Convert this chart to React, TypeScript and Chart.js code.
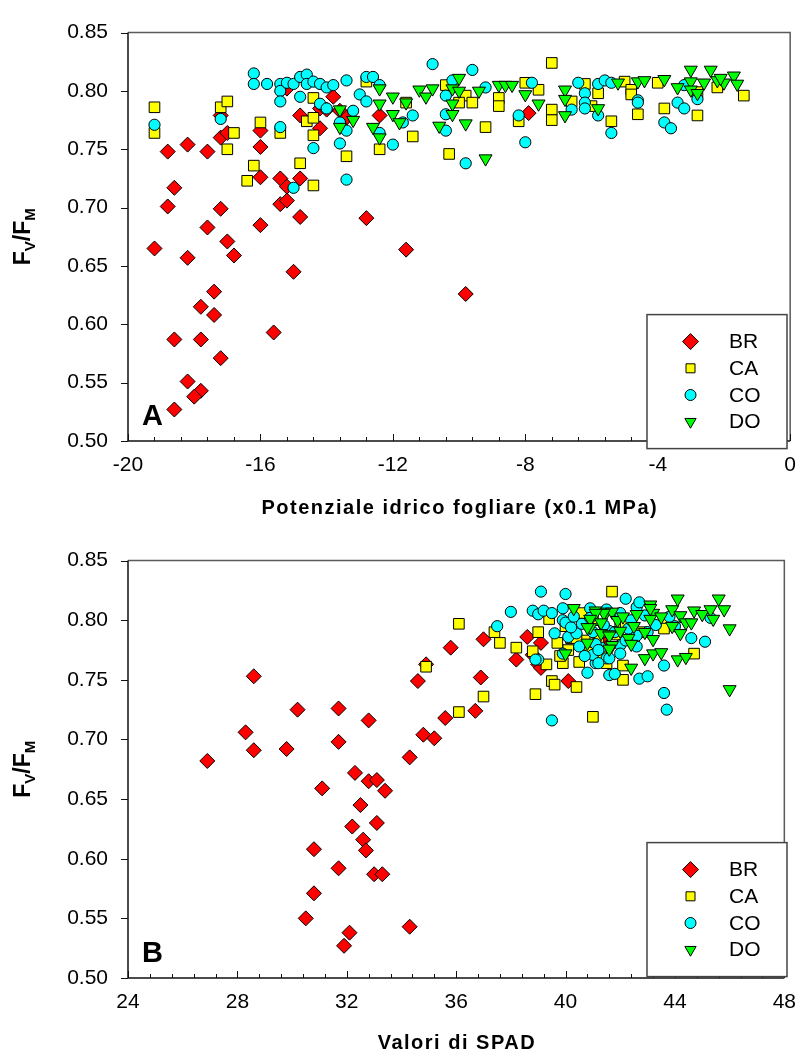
import React, { useEffect, useRef } from 'react';
import { Chart, registerables } from 'chart.js';

Chart.register(...registerables);

const FONT = '"Liberation Sans", Arial, Helvetica, sans-serif';

const seriesNames = ['BR', 'CA', 'CO', 'DO'];
const seriesColors = ['#ff0000', '#ffff00', '#00ffff', '#00ff00'];
const seriesStyles = ['rectRot', 'rect', 'circle', 'triangle'];

const yTicks = [0.5, 0.55, 0.6, 0.65, 0.7, 0.75, 0.8, 0.85];
const xTicksA = [-20, -16, -12, -8, -4, 0];
const xTicksB = [24, 28, 32, 36, 40, 44, 48];

const xTitleA = 'Potenziale idrico fogliare (x0.1 MPa)';
const xTitleB = 'Valori di SPAD';

// Panel A: leaf water potential (x0.1 MPa) vs Fv/Fm
const brA: [number, number][] = [
  [-18.8, 0.748], [-18.2, 0.754], [-17.6, 0.748], [-19.2, 0.665], [-18.8, 0.701], [-18.6, 0.717],
  [-18.2, 0.657], [-17.6, 0.683], [-17.2, 0.699], [-17.0, 0.671], [-16.8, 0.659], [-17.2, 0.760],
  [-17.0, 0.764], [-17.2, 0.779], [-16.0, 0.766], [-16.0, 0.752], [-16.0, 0.726], [-16.0, 0.685],
  [-15.4, 0.725], [-15.2, 0.718], [-15.4, 0.703], [-15.2, 0.706], [-14.8, 0.725], [-14.8, 0.692],
  [-14.8, 0.779], [-14.2, 0.768], [-14.2, 0.785], [-14.0, 0.784], [-13.8, 0.795], [-13.6, 0.783],
  [-13.4, 0.777], [-12.8, 0.691], [-12.4, 0.779], [-15.2, 0.802], [-11.6, 0.664], [-15.0, 0.645],
  [-9.8, 0.626], [-17.4, 0.628], [-17.8, 0.615], [-17.4, 0.608], [-18.6, 0.587], [-17.8, 0.587],
  [-15.6, 0.593], [-17.2, 0.571], [-18.2, 0.551], [-17.8, 0.543], [-18.0, 0.538], [-18.6, 0.527],
  [-7.9, 0.781],
];
const caA: [number, number][] = [
  [-19.2, 0.786], [-19.2, 0.764], [-17.2, 0.786], [-17.0, 0.791], [-16.8, 0.764], [-17.0, 0.750],
  [-16.0, 0.773], [-16.2, 0.736], [-16.4, 0.723], [-15.4, 0.764], [-14.8, 0.738], [-14.4, 0.719],
  [-14.6, 0.774], [-14.4, 0.794], [-14.4, 0.777], [-14.4, 0.762], [-13.4, 0.744], [-12.8, 0.808],
  [-12.4, 0.750], [-10.4, 0.805], [-9.8, 0.796], [-10.0, 0.790], [-9.6, 0.790], [-8.8, 0.794],
  [-8.8, 0.787], [-8.0, 0.807], [-7.6, 0.801], [-8.2, 0.774], [-7.2, 0.824], [-7.2, 0.784],
  [-7.2, 0.775], [-6.6, 0.791], [-6.2, 0.806], [-6.0, 0.787], [-5.8, 0.798], [-5.4, 0.774],
  [-5.0, 0.808], [-4.8, 0.801], [-4.8, 0.797], [-4.6, 0.780], [-4.0, 0.807], [-3.8, 0.785],
  [-2.8, 0.799], [-2.2, 0.803], [-2.8, 0.779], [-1.4, 0.796], [-11.4, 0.761], [-10.3, 0.746],
  [-9.2, 0.769], [-11.6, 0.790],
];
const coA: [number, number][] = [
  [-19.2, 0.771], [-17.2, 0.776], [-16.2, 0.815], [-16.2, 0.806], [-15.8, 0.806], [-15.4, 0.806],
  [-15.4, 0.800], [-15.4, 0.791], [-15.2, 0.807], [-15.0, 0.806], [-14.8, 0.812], [-14.6, 0.814],
  [-14.6, 0.806], [-14.4, 0.808], [-14.2, 0.806], [-14.0, 0.803], [-13.8, 0.805], [-13.4, 0.809],
  [-14.8, 0.795], [-14.2, 0.789], [-14.0, 0.785], [-13.2, 0.783], [-13.0, 0.797], [-12.8, 0.812],
  [-12.6, 0.812], [-12.8, 0.791], [-12.4, 0.805], [-15.4, 0.769], [-15.0, 0.717], [-14.4, 0.751],
  [-13.6, 0.773], [-13.4, 0.766], [-13.6, 0.755], [-13.4, 0.724], [-12.4, 0.764], [-12.0, 0.754],
  [-10.8, 0.823], [-9.6, 0.818], [-10.2, 0.809], [-9.2, 0.803], [-7.8, 0.807], [-10.4, 0.796],
  [-11.4, 0.779], [-10.4, 0.780], [-10.4, 0.766], [-9.8, 0.738], [-8.2, 0.779], [-8.0, 0.756],
  [-6.4, 0.807], [-5.8, 0.806], [-5.6, 0.809], [-5.4, 0.807], [-6.2, 0.798], [-6.2, 0.790],
  [-6.2, 0.785], [-6.6, 0.784], [-5.8, 0.779], [-5.4, 0.764], [-4.6, 0.792], [-4.6, 0.790],
  [-3.4, 0.790], [-3.2, 0.785], [-3.8, 0.773], [-3.6, 0.768], [-2.8, 0.793], [-3.2, 0.805],
  [-11.7, 0.773],
];
const doA: [number, number][] = [
  [-13.6, 0.784], [-13.6, 0.769], [-13.2, 0.775], [-12.6, 0.769], [-12.4, 0.802], [-12.4, 0.789],
  [-12.4, 0.760], [-12.0, 0.795], [-12.0, 0.780], [-11.8, 0.773], [-11.6, 0.790], [-11.2, 0.801],
  [-11.0, 0.795], [-10.8, 0.802], [-10.2, 0.802], [-10.0, 0.811], [-10.2, 0.789], [-10.0, 0.800],
  [-10.2, 0.780], [-10.6, 0.770], [-9.8, 0.772], [-9.4, 0.800], [-9.2, 0.742], [-8.8, 0.805],
  [-8.6, 0.805], [-8.4, 0.805], [-8.0, 0.797], [-7.6, 0.789], [-6.8, 0.801], [-6.8, 0.793],
  [-6.8, 0.779], [-5.8, 0.785], [-5.2, 0.807], [-4.6, 0.808], [-4.4, 0.809], [-3.8, 0.810],
  [-3.4, 0.803], [-3.0, 0.818], [-3.0, 0.808], [-3.0, 0.801], [-2.8, 0.798], [-2.6, 0.807],
  [-2.4, 0.818], [-2.2, 0.809], [-2.0, 0.807], [-1.7, 0.813], [-1.6, 0.806], [-2.1, 0.811],
];

// Panel B: SPAD values vs Fv/Fm
const brB: [number, number][] = [
  [28.6, 0.753], [30.2, 0.725], [31.7, 0.726], [32.8, 0.716], [28.3, 0.706], [28.6, 0.691],
  [29.8, 0.692], [31.7, 0.698], [26.9, 0.682], [32.3, 0.672], [32.8, 0.665], [33.1, 0.666],
  [33.4, 0.657], [31.1, 0.659], [32.5, 0.645], [32.2, 0.627], [33.1, 0.630], [32.6, 0.616],
  [32.7, 0.607], [30.8, 0.608], [31.7, 0.592], [33.0, 0.587], [33.3, 0.587], [30.8, 0.571],
  [30.5, 0.550], [32.1, 0.538], [31.9, 0.527], [34.3, 0.543], [35.8, 0.777], [34.9, 0.763],
  [34.6, 0.749], [36.9, 0.752], [36.7, 0.724], [35.6, 0.718], [34.8, 0.704], [35.2, 0.701],
  [34.3, 0.685], [38.2, 0.767], [39.0, 0.763], [40.1, 0.749], [37.0, 0.784], [38.6, 0.786],
  [39.1, 0.781], [39.1, 0.760], [38.8, 0.771], [41.4, 0.782], [41.5, 0.777],
];
const caB: [number, number][] = [
  [34.9, 0.761], [37.0, 0.736], [36.1, 0.723], [38.9, 0.738], [39.5, 0.749], [39.6, 0.746],
  [39.9, 0.764], [39.3, 0.763], [38.2, 0.777], [38.8, 0.774], [36.1, 0.797], [37.4, 0.790],
  [37.6, 0.781], [39.0, 0.790], [39.4, 0.801], [39.7, 0.781], [40.4, 0.744], [41.0, 0.719],
  [41.7, 0.824], [40.2, 0.785], [40.7, 0.783], [42.1, 0.796], [42.0, 0.798], [41.9, 0.789],
  [43.6, 0.801], [43.6, 0.793], [44.7, 0.772], [42.1, 0.762], [42.1, 0.750], [41.5, 0.764],
  [40.6, 0.806], [42.2, 0.797], [40.4, 0.785], [41.6, 0.790], [41.9, 0.788], [40.1, 0.775],
  [40.9, 0.773], [41.2, 0.784], [42.5, 0.783], [40.0, 0.795], [41.0, 0.800], [42.8, 0.790],
  [39.8, 0.770], [40.5, 0.765], [41.3, 0.770],
];
const coB: [number, number][] = [
  [39.5, 0.716], [39.0, 0.767], [39.1, 0.824], [40.0, 0.822], [38.0, 0.807], [37.5, 0.795],
  [38.8, 0.808], [39.0, 0.805], [39.2, 0.808], [39.5, 0.806], [39.9, 0.810], [39.9, 0.800],
  [39.6, 0.789], [40.1, 0.786], [40.4, 0.789], [38.9, 0.767], [39.9, 0.772], [40.8, 0.756],
  [41.1, 0.764], [40.9, 0.810], [40.6, 0.797], [40.9, 0.802], [41.3, 0.777], [41.5, 0.768],
  [41.0, 0.771], [41.6, 0.754], [42.2, 0.818], [42.6, 0.811], [42.7, 0.815], [42.0, 0.806],
  [41.5, 0.809], [42.9, 0.804], [43.3, 0.796], [42.3, 0.793], [41.6, 0.791], [42.6, 0.778],
  [42.0, 0.779], [42.0, 0.772], [41.6, 0.768], [41.8, 0.755], [42.7, 0.751], [43.0, 0.753],
  [43.6, 0.762], [44.6, 0.785], [45.1, 0.782], [43.6, 0.739], [43.7, 0.725], [45.3, 0.802],
  [40.0, 0.798], [40.2, 0.794], [41.1, 0.780], [41.2, 0.775], [41.2, 0.764], [40.5, 0.778],
  [40.7, 0.770], [41.8, 0.790], [42.4, 0.800], [42.6, 0.787], [41.0, 0.790], [43.0, 0.790],
  [40.3, 0.803], [41.4, 0.796], [42.2, 0.783], [44.0, 0.795], [43.8, 0.803],
];
const doB: [number, number][] = [
  [40.3, 0.810], [40.0, 0.772], [40.8, 0.781], [41.1, 0.808], [40.9, 0.794], [41.5, 0.807],
  [41.3, 0.789], [41.6, 0.788], [41.7, 0.807], [41.4, 0.806], [43.1, 0.813], [43.2, 0.806],
  [43.9, 0.809], [44.1, 0.818], [44.2, 0.804], [44.7, 0.808], [45.0, 0.805], [45.3, 0.809],
  [45.6, 0.818], [45.8, 0.809], [45.4, 0.801], [46.0, 0.793], [42.6, 0.805], [43.1, 0.801],
  [43.5, 0.803], [43.9, 0.795], [44.4, 0.798], [44.6, 0.798], [44.2, 0.789], [42.9, 0.790],
  [43.2, 0.784], [41.6, 0.787], [42.3, 0.785], [42.4, 0.780], [41.7, 0.779], [42.9, 0.768],
  [43.2, 0.772], [43.5, 0.773], [44.1, 0.767], [44.4, 0.769], [42.4, 0.760], [46.0, 0.742],
  [43.1, 0.810], [41.1, 0.806], [40.9, 0.801], [41.3, 0.798], [40.8, 0.794], [41.6, 0.776],
  [41.9, 0.800], [42.1, 0.803], [42.5, 0.795], [42.0, 0.791],
];

type Cfg = {
  series: [number, number][][];
  xTicks: number[];
  xTitle: string;
  letter: string;
  padTop: number;
  xAxisHeight: number;
  xTitleOffset: number;
};

function drawMarker(ctx: CanvasRenderingContext2D, style: string, x: number, y: number, fill: string) {
  ctx.beginPath();
  if (style === 'rectRot') {
    const r = 8;
    ctx.moveTo(x - r, y);
    ctx.lineTo(x, y - r);
    ctx.lineTo(x + r, y);
    ctx.lineTo(x, y + r);
    ctx.closePath();
  } else if (style === 'rect') {
    const s = 4.5;
    ctx.rect(x - s, y - s, 2 * s, 2 * s);
  } else if (style === 'circle') {
    ctx.arc(x, y, 5.5, 0, Math.PI * 2);
  } else {
    const r = 6.5;
    const h = r * Math.sin(Math.PI / 3);
    ctx.moveTo(x, y + r);
    ctx.lineTo(x - h, y - r / 2);
    ctx.lineTo(x + h, y - r / 2);
    ctx.closePath();
  }
  ctx.fillStyle = fill;
  ctx.fill();
  ctx.lineWidth = 1;
  ctx.strokeStyle = '#000';
  ctx.stroke();
}

function drawSpaced(ctx: CanvasRenderingContext2D, text: string, cx: number, cy: number, spacing: number) {
  const anyCtx = ctx as any;
  anyCtx.letterSpacing = spacing + 'px';
  const w = ctx.measureText(text).width - spacing;
  ctx.textAlign = 'left';
  ctx.textBaseline = 'middle';
  ctx.fillText(text, cx - w / 2, cy);
  anyCtx.letterSpacing = '0px';
}

function makeDecor(cfg: Cfg) {
  return {
    id: 'decor',
    beforeDatasetsDraw(chart: any) {
      const { ctx, chartArea } = chart;
      const { left, right, top, bottom } = chartArea;
      const xs = chart.scales.x;
      const ys = chart.scales.y;
      ctx.save();
      // top and right frame
      ctx.strokeStyle = '#5a5a5a';
      ctx.lineWidth = 1.5;
      ctx.beginPath();
      ctx.moveTo(left, top);
      ctx.lineTo(right, top);
      ctx.lineTo(right, bottom);
      ctx.stroke();
      // axes
      ctx.strokeStyle = '#111';
      ctx.lineWidth = 1.5;
      ctx.beginPath();
      ctx.moveTo(left, top);
      ctx.lineTo(left, bottom);
      ctx.lineTo(right, bottom);
      ctx.stroke();
      // x ticks (inward), minor every 0.8
      ctx.lineWidth = 1;
      ctx.beginPath();
      const xmin = cfg.xTicks[0];
      const xmax = cfg.xTicks[cfg.xTicks.length - 1];
      const n = Math.round((xmax - xmin) / 0.8);
      for (let i = 0; i <= n; i++) {
        const v = xmin + i * 0.8;
        const px = Math.round(xs.getPixelForValue(v)) + 0.5;
        const major = i % 5 === 0;
        ctx.moveTo(px, bottom);
        ctx.lineTo(px, bottom - (major ? 7 : 4));
      }
      // y ticks (outward)
      yTicks.forEach((v) => {
        const py = Math.round(ys.getPixelForValue(v)) + 0.5;
        ctx.moveTo(left - 7, py);
        ctx.lineTo(left, py);
      });
      ctx.stroke();
      ctx.restore();
    },
    afterDraw(chart: any) {
      const { ctx, chartArea } = chart;
      const { left, right, top, bottom } = chartArea;
      ctx.save();
      ctx.fillStyle = '#000';
      // x title
      ctx.font = `bold 20px ${FONT}`;
      drawSpaced(ctx, cfg.xTitle, (left + right) / 2, bottom + cfg.xTitleOffset, 1.5);
      // y title Fv/Fm
      const cy = (top + bottom) / 2;
      ctx.translate(25, cy);
      ctx.rotate(-Math.PI / 2);
      const big = `bold 23px ${FONT}`;
      const small = `bold 15px ${FONT}`;
      const parts: [string, string, number][] = [
        ['F', big, 0], ['V', small, 5], ['/', big, 0], ['F', big, 0], ['M', small, 5],
      ];
      let total = 0;
      parts.forEach(([t, f]) => { ctx.font = f; total += ctx.measureText(t).width; });
      let xx = -total / 2;
      ctx.textAlign = 'left';
      ctx.textBaseline = 'alphabetic';
      parts.forEach(([t, f, dy]) => {
        ctx.font = f;
        ctx.fillText(t, xx, 5 + dy);
        xx += ctx.measureText(t).width;
      });
      ctx.setTransform(1, 0, 0, 1, 0, 0);
      // panel letter
      ctx.font = `bold 29px ${FONT}`;
      ctx.textAlign = 'left';
      ctx.textBaseline = 'alphabetic';
      ctx.fillStyle = '#000';
      ctx.fillText(cfg.letter, left + 14, bottom - 16);
      // legend box
      const bx = left + 519;
      const by = top + 282;
      const bw = 140;
      const bh = 134;
      ctx.fillStyle = '#fff';
      ctx.fillRect(bx, by, bw, bh);
      ctx.strokeStyle = '#444';
      ctx.lineWidth = 1.5;
      ctx.strokeRect(bx, by, bw, bh);
      seriesNames.forEach((name, i) => {
        const iy = by + 27 + i * 26.7;
        drawMarker(ctx, seriesStyles[i], bx + 43.5, iy, seriesColors[i]);
        ctx.fillStyle = '#000';
        ctx.font = `21px ${FONT}`;
        ctx.textAlign = 'left';
        ctx.textBaseline = 'middle';
        ctx.fillText(name, bx + 82, iy + 1);
      });
      ctx.restore();
    },
  };
}

function Panel({ cfg, top, height }: { cfg: Cfg; top: number; height: number }) {
  const ref = useRef<HTMLCanvasElement | null>(null);
  useEffect(() => {
    const canvas = ref.current;
    if (!canvas) return;
    const radii = [7.5, 7.5, 5.6, 7.5];
    const datasets = cfg.series.map((pts, i) => ({
      label: seriesNames[i],
      data: pts.map(([x, y]) => ({ x, y })),
      pointStyle: seriesStyles[i],
      rotation: seriesStyles[i] === 'triangle' ? 180 : 0,
      pointRadius: radii[i],
      pointBackgroundColor: seriesColors[i],
      pointBorderColor: '#000',
      pointBorderWidth: 1,
      showLine: false,
      order: 4 - i,
    }));
    const xmin = cfg.xTicks[0];
    const xmax = cfg.xTicks[cfg.xTicks.length - 1];
    const chart = new Chart(canvas, {
      type: 'scatter',
      data: { datasets } as any,
      options: {
        animation: false,
        responsive: false,
        maintainAspectRatio: false,
        devicePixelRatio: 1,
        layout: { padding: { top: cfg.padTop, right: 15, left: 0, bottom: 0 } },
        plugins: { legend: { display: false }, tooltip: { enabled: false } },
        events: [],
        scales: {
          x: {
            type: 'linear',
            min: xmin,
            max: xmax,
            afterFit: (s: any) => { s.height = cfg.xAxisHeight; },
            afterBuildTicks: (s: any) => { s.ticks = cfg.xTicks.map((v) => ({ value: v })); },
            grid: { display: false, drawTicks: false },
            border: { display: false },
            ticks: {
              font: { family: FONT, size: 21 },
              color: '#000',
              padding: 12,
              autoSkip: false,
              maxRotation: 0,
              callback: (v: any) => String(v),
            },
          },
          y: {
            type: 'linear',
            min: yTicks[0],
            max: yTicks[yTicks.length - 1],
            afterFit: (s: any) => { s.width = 128; },
            afterBuildTicks: (s: any) => { s.ticks = yTicks.map((v) => ({ value: v })); },
            grid: { display: false, drawTicks: false },
            border: { display: false },
            ticks: {
              font: { family: FONT, size: 21 },
              color: '#000',
              padding: 20,
              autoSkip: false,
              callback: (v: any) => Number(v).toFixed(2),
            },
          },
        },
      } as any,
      plugins: [makeDecor(cfg)],
    });
    return () => chart.destroy();
  }, [cfg]);
  return (
    <canvas
      ref={ref}
      width={808}
      height={height}
      style={{ position: 'absolute', left: 0, top, width: 808, height, display: 'block' }}
    />
  );
}

const cfgA: Cfg = {
  series: [brA, caA, coA, doA],
  xTicks: xTicksA,
  xTitle: xTitleA,
  letter: 'A',
  padTop: 19,
  xAxisHeight: 87,
  xTitleOffset: 67,
};
const cfgB: Cfg = {
  series: [brB, caB, coB, doB],
  xTicks: xTicksB,
  xTitle: xTitleB,
  letter: 'B',
  padTop: 26,
  xAxisHeight: 79,
  xTitleOffset: 65,
};

export default function App() {
  return (
    <div style={{ position: 'absolute', left: 0, top: 0, width: 808, height: 1057, background: '#fff', overflow: 'hidden' }}>
      <Panel cfg={cfgA} top={0} height={528} />
      <Panel cfg={cfgB} top={528} height={529} />
    </div>
  );
}
